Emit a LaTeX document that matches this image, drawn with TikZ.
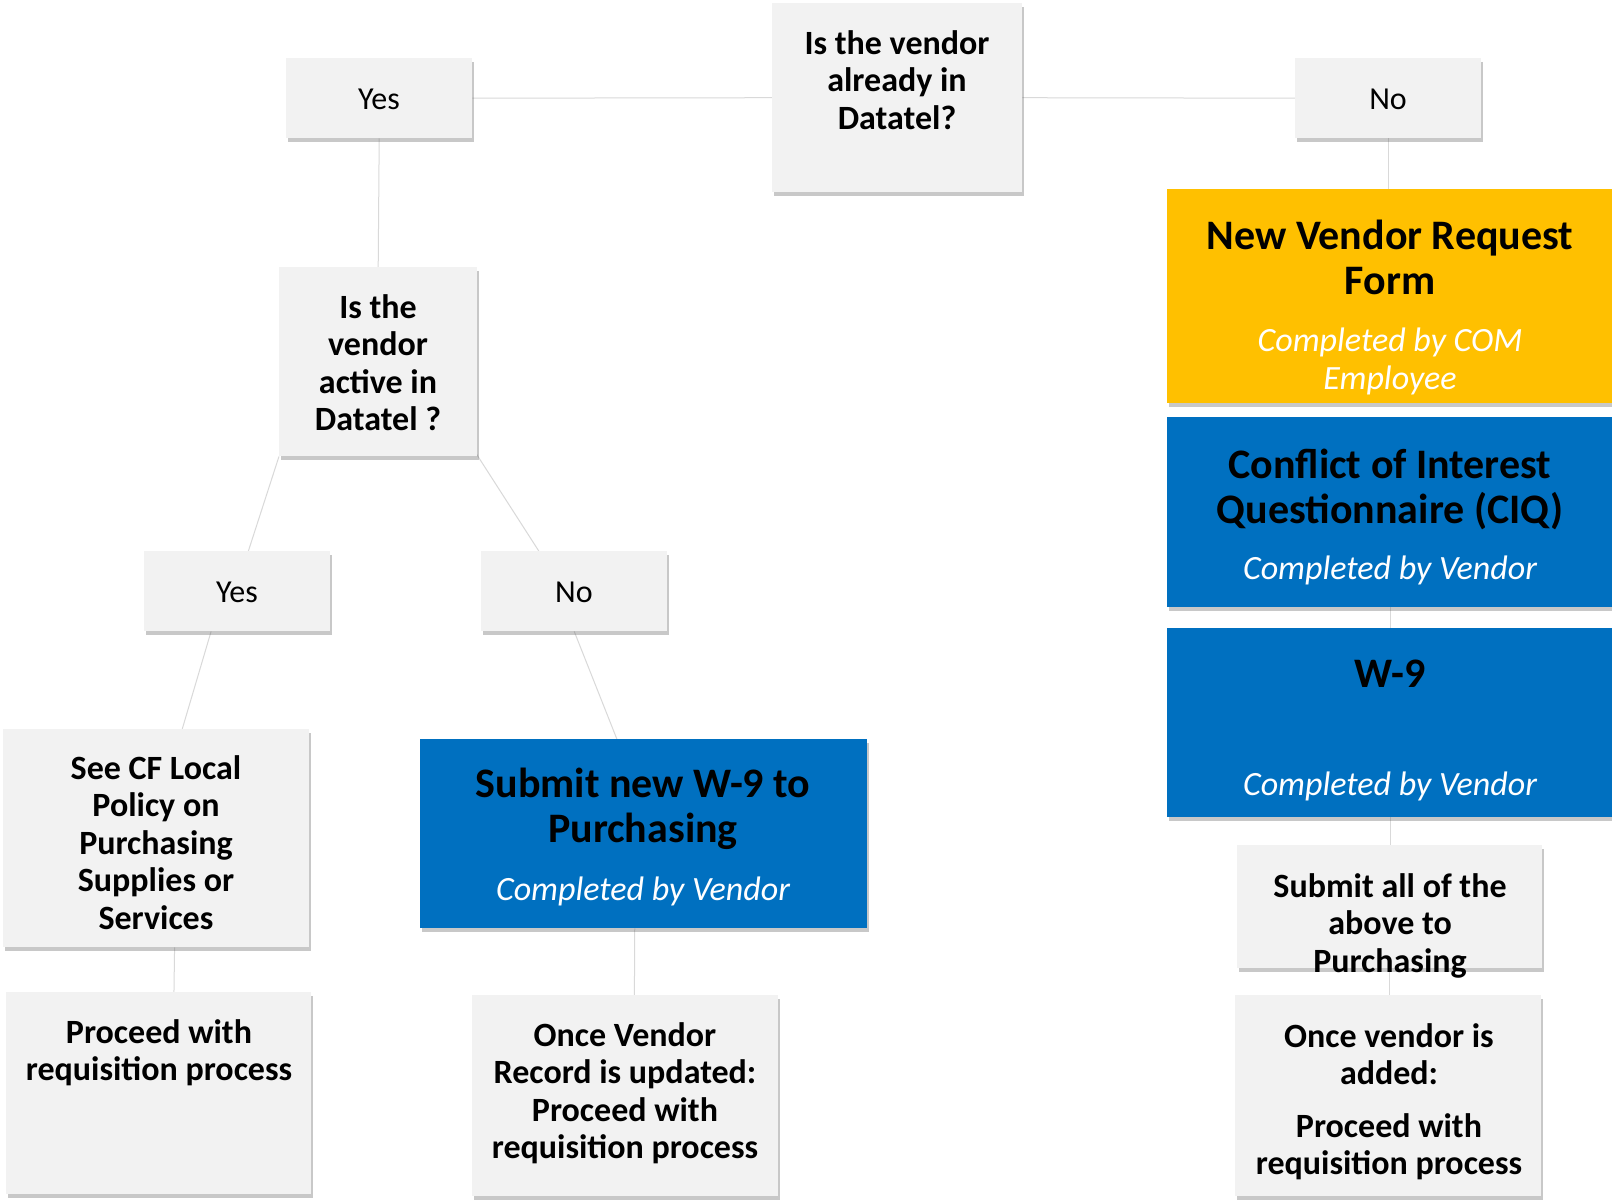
\documentclass[tikz,border=0pt]{standalone}
\usepackage{fontspec}
\setmainfont{Carlito}
\usetikzlibrary{shadows,backgrounds,calc}
\definecolor{boxgray}{HTML}{F2F2F2}
\definecolor{cyel}{HTML}{FFC000}
\definecolor{cblue}{HTML}{0070C0}
\definecolor{lineg}{HTML}{D9D9D9}
\tikzset{
 basebox/.style={rectangle, inner sep=0pt, anchor=north west, drop shadow={shadow xshift=1.5pt, shadow yshift=-3.5pt, opacity=0.3, fill=black!70}},
 gbox/.style={basebox, fill=boxgray},
 ybox/.style={basebox, fill=cyel},
 bbox/.style={basebox, fill=cblue},
 gtxt/.style={anchor=base, align=center, inner sep=0pt, font=\fontsize{34}{37.5}\selectfont\bfseries},
 ttxt/.style={anchor=base, align=center, inner sep=0pt, font=\fontsize{42}{45}\selectfont\bfseries},
 itxt/.style={anchor=base, align=center, inner sep=0pt, text=white, font=\fontsize{34}{38}\selectfont\itshape},
 ltxt/.style={anchor=base, inner sep=0pt, font=\fontsize{32}{38}\selectfont},
 conn/.style={draw=lineg, line width=1pt},
}
\begin{document}
\begin{tikzpicture}[x=1pt,y=-1pt]
\useasboundingbox (0,0) rectangle (1612,1200);
% boxes
\node[gbox, minimum width=250pt, minimum height=189pt] (q1) at (772,3) {};
\node[gbox, minimum width=186pt, minimum height=80pt] (yes1) at (286,58) {};
\node[gbox, minimum width=186pt, minimum height=80pt] (no1) at (1295,58) {};
\node[ybox, minimum width=447pt, minimum height=214pt] (nvr) at (1167,189) {};
\node[bbox, minimum width=447pt, minimum height=190pt] (ciq) at (1167,417) {};
\node[bbox, minimum width=447pt, minimum height=189pt] (w9) at (1167,628) {};
\node[gbox, minimum width=305pt, minimum height=123pt] (suball) at (1237,845) {};
\node[gbox, minimum width=306pt, minimum height=201pt] (added) at (1235,995) {};
\node[gbox, minimum width=198pt, minimum height=189pt] (q2) at (279,267) {};
\node[gbox, minimum width=186pt, minimum height=80pt] (yesm) at (144,551) {};
\node[gbox, minimum width=186pt, minimum height=80pt] (nom) at (481,551) {};
\node[gbox, minimum width=306pt, minimum height=218pt] (seecf) at (3,729) {};
\node[gbox, minimum width=305pt, minimum height=202pt] (proc) at (6,992) {};
\node[bbox, minimum width=447pt, minimum height=189pt] (subw9) at (420,739) {};
\node[gbox, minimum width=306pt, minimum height=201pt] (rec) at (472,995) {};
% connectors
\begin{scope}[on background layer]
\fill[white] (0,0) rectangle (1612,1200);
\draw[conn] (q1.west) -- (yes1.east);
\draw[conn] (q1.east) -- (no1.west);
\draw[conn] (yes1.south) -- (q2.north);
\draw[conn] (q2.south west) -- ($(yesm.north west)!0.56!(yesm.north east)$);
\draw[conn] ([xshift=-2pt,yshift=4pt]q2.south east) -- ($(nom.north west)!0.31!(nom.north east)$);
\draw[conn] ($(yesm.south west)!0.36!(yesm.south east)$) -- ($(seecf.north west)!0.585!(seecf.north east)$);
\draw[conn] (nom.south) -- ($(subw9.north west)!0.44!(subw9.north east)$);
\draw[conn] ($(seecf.south west)!0.56!(seecf.south east)$) -- ($(proc.north west)!0.55!(proc.north east)$);
\draw[conn] ($(subw9.south west)!0.48!(subw9.south east)$) -- ($(rec.north west)!0.53!(rec.north east)$);
\draw[conn] (no1.south) -- (no1.south |- nvr.north);
\draw[conn] (ciq.south) -- (w9.north);
\draw[conn] (w9.south) -- (w9.south |- suball.north);
\draw[conn] (suball.south) -- (suball.south |- added.north);
\end{scope}
% texts (anchor = baseline of last line)
\node[gtxt] (q1t) at (897,129) {Is the vendor\\already in\\Datatel?};
\node[ltxt] (yes1t) at (379,109) {Yes};
\node[ltxt] (no1t) at (1388,109) {No};
\node[ttxt] (nvrt) at (1390,294) {New Vendor Request\\Form};
\node[itxt] (nvri) at (1390,389) {Completed by COM\\Employee};
\node[ttxt] (ciqt) at (1390,523) {Conflict of Interest\\Questionnaire (CIQ)};
\node[itxt] (ciqi) at (1390,579) {Completed by Vendor};
\node[ttxt] (w9t) at (1390,687) {W-9};
\node[itxt] (w9i) at (1390,795) {Completed by Vendor};
\node[gtxt] (suballt) at (1390,972) {Submit all of the\\above to\\Purchasing};
\node[gtxt] (addedt) at (1389,1174.5) {Once vendor is\\added:\\[15pt]Proceed with\\requisition process};
\node[gtxt] (q2t) at (378,430.5) {Is the\\vendor\\active in\\Datatel ?};
\node[ltxt] (yesmt) at (237,602) {Yes};
\node[ltxt] (nomt) at (574,602) {No};
\node[gtxt] (seecft) at (156,929) {See CF Local\\Policy on\\Purchasing\\Supplies or\\Services};
\node[gtxt] (proct) at (159,1080.5) {Proceed with\\requisition process};
\node[ttxt] (subw9t) at (643,842) {Submit new W-9 to\\Purchasing};
\node[itxt] (subw9i) at (643,900) {Completed by Vendor};
\node[gtxt] (rect) at (625,1158.5) {Once Vendor\\Record is updated:\\Proceed with\\requisition process};
\end{tikzpicture}
\end{document}
